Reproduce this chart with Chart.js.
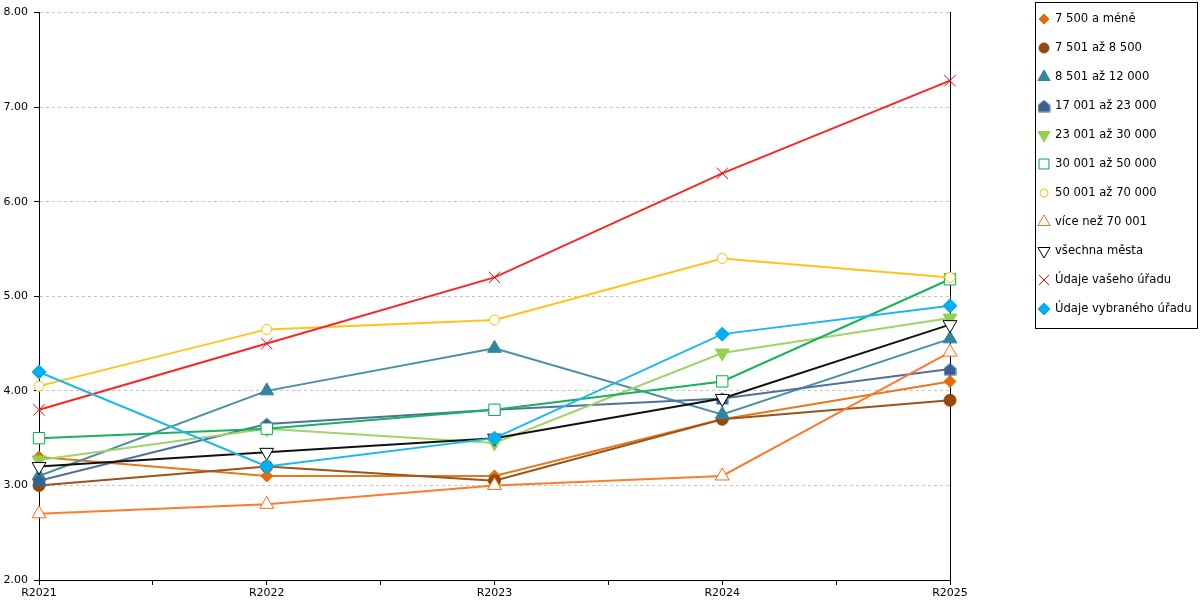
<!DOCTYPE html>
<html>
<head>
<meta charset="utf-8">
<script src="https://cdn.jsdelivr.net/npm/chart.js@4/dist/chart.umd.min.js"></script>
<style>
  html, body { margin: 0; padding: 0; background: #fff; }
  #wrap { width: 1200px; height: 600px; }
</style>
</head>
<body>
<div id="wrap"><canvas id="lineChart" width="1200" height="600"></canvas></div>
<script>
// Categories and series values
const years = ['R2021', 'R2022', 'R2023', 'R2024', 'R2025'];
const yTicks = [2, 3, 4, 5, 6, 7, 8];

const upTo7500 = [3.30, 3.10, 3.10, 3.70, 4.10];
const from7501 = [3.00, 3.20, 3.05, 3.70, 3.90];
const from8501 = [3.10, 4.00, 4.45, 3.75, 4.55];
const from17001 = [3.05, 3.65, 3.80, 3.92, 4.23];
const from23001 = [3.27, 3.60, 3.45, 4.40, 4.77];
const from30001 = [3.50, 3.60, 3.80, 4.10, 5.18];
const from50001 = [4.05, 4.65, 4.75, 5.40, 5.20];
const over70001 = [2.70, 2.80, 3.00, 3.10, 4.41];
const allCities = [3.20, 3.35, 3.50, 3.92, 4.70];
const yourOffice = [3.80, 4.50, 5.20, 6.30, 7.28];
const selectedOffice = [4.20, 3.20, 3.50, 4.60, 4.90];

// "house" shaped marker for the 17 001 - 23 000 group
function houseMarker(color) {
    const c = document.createElement('canvas');
    c.width = 13; c.height = 13;
    const g = c.getContext('2d');
    g.fillStyle = color;
    g.beginPath();
    g.moveTo(6.5, 0.5);
    g.lineTo(12.5, 5.5);
    g.lineTo(12.5, 12.5);
    g.lineTo(0.5, 12.5);
    g.lineTo(0.5, 5.5);
    g.closePath();
    g.fill();
    return c;
}

function series(label, values, color, lineColor, style, radius, open, rotation) {
    return {
        label: label,
        data: values.map((v, i) => ({ x: i, y: v })),
        borderColor: lineColor,
        backgroundColor: color,
        borderWidth: 2,
        tension: 0,
        pointStyle: style,
        pointRadius: radius,
        pointHoverRadius: radius,
        pointRotation: rotation || 0,
        pointBackgroundColor: open ? '#ffffff' : color,
        pointBorderColor: color,
        pointBorderWidth: 1,
        clip: false
    };
}

const datasets = [
    series('7 500 a méně', upTo7500, '#e36c0a', '#e8781e', 'rectRot', 6),
    series('7 501 až 8 500', from7501, '#984807', '#9c5218', 'circle', 6),
    series('8 501 až 12 000', from8501, '#31859c', '#4a90a4', 'triangle', 8),
    series('17 001 až 23 000', from17001, '#376092', '#50709e', houseMarker('#376092'), 6),
    series('23 001 až 30 000', from23001, '#92d050', '#9ed564', 'triangle', 8, false, 180),
    series('30 001 až 50 000', from30001, '#00b050', '#14b35c', 'rect', 8, true),
    series('50 001 až 70 000', from50001, '#ffc000', '#ffc31a', 'circle', 5, true),
    series('více než 70 001', over70001, '#ff6a13', '#ff7a2c', 'triangle', 8, true),
    series('všechna města', allCities, '#000000', '#111111', 'triangle', 8, true, 180),
    series('Údaje vašeho úřadu', yourOffice, '#ff0000', '#ff2424', 'crossRot', 8),
    series('Údaje vybraného úřadu', selectedOffice, '#00b0f0', '#1ab7f0', 'rectRot', 7)
];
// later series on top
datasets.forEach((d, i) => { d.order = datasets.length - i; });

// boxed legend on the right
const boxLegend = {
    id: 'boxLegend',
    afterDraw(chart) {
        const ctx = chart.ctx;
        const left = 1035, top = 2, rowH = 29;
        ctx.save();
        ctx.strokeStyle = '#000';
        ctx.lineWidth = 1;
        ctx.strokeRect(left + 0.5, top + 0.5, 162, 326);
        ctx.font = '11.6px "DejaVu Sans"';
        ctx.textBaseline = 'middle';
        chart.data.datasets.forEach((ds, i) => {
            const cy = top + 17 + i * rowH;
            ctx.fillStyle = ds.pointBackgroundColor;
            ctx.strokeStyle = ds.pointBorderColor;
            ctx.lineWidth = 1;
            Chart.helpers.drawPoint(ctx, {
                pointStyle: ds.pointStyle,
                radius: ds.pointRadius - 1,
                rotation: ds.pointRotation,
                borderWidth: 1
            }, left + 9, cy);
            ctx.fillStyle = '#000';
            ctx.fillText(ds.label, left + 20, cy);
        });
        ctx.restore();
    }
};

const ctx = document.getElementById('lineChart').getContext('2d');
new Chart(ctx, {
    type: 'line',
    data: { datasets: datasets },
    options: {
        responsive: false,
        animation: false,
        layout: { padding: { top: 10, right: 250, left: 0, bottom: 0 } },
        plugins: {
            legend: { display: false },
            tooltip: { enabled: false }
        },
        scales: {
            x: {
                type: 'linear',
                min: 0,
                max: years.length - 1,
                afterFit: s => { s.height = 20; },
                ticks: {
                    stepSize: 0.5,
                    autoSkip: false,
                    maxRotation: 0,
                    padding: 2,
                    color: '#000',
                    font: { family: 'DejaVu Sans', size: 11 },
                    callback: v => Number.isInteger(v) ? years[v] : ''
                },
                grid: { drawOnChartArea: false, tickLength: 5, tickColor: '#000' },
                border: { color: '#000', width: 1 }
            },
            y: {
                min: yTicks[0],
                max: yTicks[yTicks.length - 1],
                afterFit: s => { s.width = 39; },
                afterBuildTicks: s => { s.ticks = yTicks.map(v => ({ value: v })); },
                ticks: {
                    padding: 6,
                    color: '#000',
                    font: { family: 'DejaVu Sans', size: 11 },
                    callback: v => v.toFixed(2)
                },
                grid: { color: '#c4c4c4', tickLength: 5, tickColor: '#000' },
                border: { color: '#000', width: 1, dash: [3, 3] }
            },
            y2: {
                position: 'right',
                min: yTicks[0],
                max: yTicks[yTicks.length - 1],
                afterFit: s => { s.width = 0; },
                ticks: { display: false },
                grid: { drawOnChartArea: false, drawTicks: false },
                border: { color: '#000', width: 1 }
            }
        }
    },
    plugins: [boxLegend]
});
</script>
</body>
</html>
